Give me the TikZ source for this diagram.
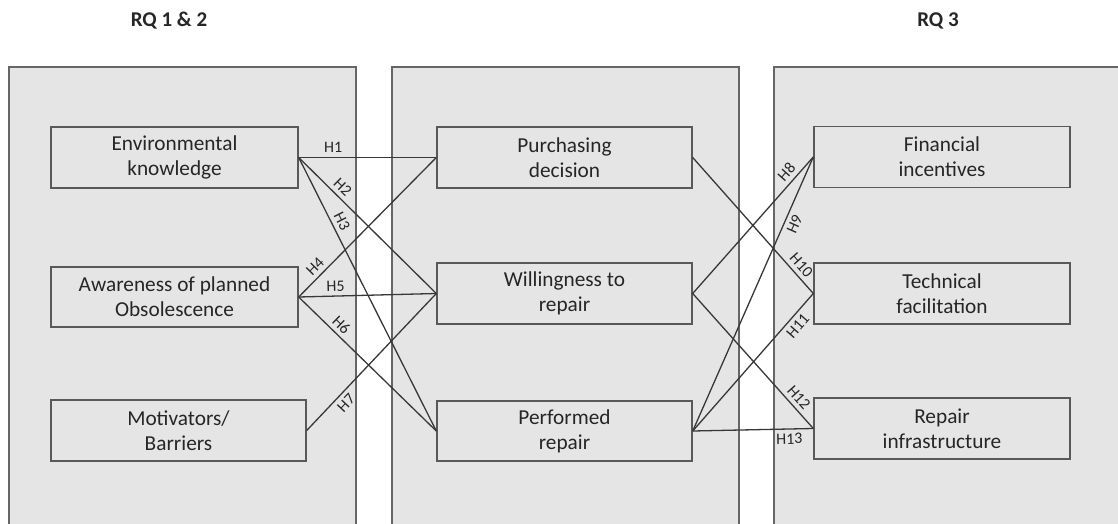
\documentclass[tikz,border=0pt]{standalone}
\usepackage{fontspec}
\setmainfont{Carlito}
\begin{document}
\begin{tikzpicture}[x=1pt,y=-1pt,
  panel/.style={draw=black!60,line width=1.4pt,fill=black!10},
  varbox/.style={draw=black!65,line width=1.4pt,minimum height=61pt,inner sep=0pt,
    align=center,font=\fontsize{21.3}{25}\selectfont,text=black!85},
  link/.style={draw=black!78,line width=1.3pt},
  hyp/.style={font=\fontsize{16}{18}\selectfont,text=black!85,inner sep=4pt,sloped},
  rq/.style={font=\bfseries\fontsize{21}{24}\selectfont,text=black!85}]
\useasboundingbox (0,0) rectangle (1118,524);
\clip (0,0) rectangle (1118,524);
\fill[white] (0,0) rectangle (1118,524);

% research question headings
\node[rq] (rq12) at (169,21) {RQ 1 \& 2};
\node[rq] (rq3) at (938,21) {RQ 3};

% grey panels (open at the bottom and right)
\path[panel] (9,540) -- (9,67) -- (356,67) -- (356,540);
\path[panel] (392,540) -- (392,67) -- (739,67) -- (739,540);
\path[panel] (774,540) -- (774,67) -- (1130,67) -- (1130,540);

% constructs
\node[varbox,minimum width=247pt] (env) at (174.5,157.5) {Environmental\\knowledge};
\node[varbox,minimum width=247pt,minimum height=60pt] (aware) at (174.5,297) {Awareness of planned\\Obsolescence};
\node[varbox,minimum width=255pt] (motiv) at (178.5,430.5) {Motivators/\\Barriers};

\node[varbox,minimum width=255pt] (purch) at (564.5,157.5) {Purchasing\\decision};
\node[varbox,minimum width=255pt] (will) at (564.5,293.5) {Willingness to\\repair};
\node[varbox,minimum width=255pt,minimum height=60pt] (perf) at (564.5,431) {Performed\\repair};

\node[varbox,minimum width=256pt] (fin) at (942,157) {Financial\\incentives};
\node[varbox,minimum width=256pt] (tech) at (942,293.5) {Technical\\facilitation};
\node[varbox,minimum width=256pt] (infra) at (942,428.5) {Repair\\infrastructure};

% hypotheses, RQ 1 & 2
\draw[link] (env.east) -- node[hyp,pos=0.25,above] {H1} (purch.west);
\draw[link] (env.east) -- node[hyp,pos=0.27,above] {H2} (will.west);
\draw[link] (env.east) -- node[hyp,pos=0.25,above] {H3} (perf.west);
\draw[link] (aware.east) -- node[hyp,pos=0.17,above] {H4} (purch.west);
\draw[link] (aware.east) -- node[hyp,pos=0.27,above] {H5} (will.west);
\draw[link] (aware.east) -- node[hyp,pos=0.26,above] {H6} (perf.west);
\draw[link] (motiv.east) -- node[hyp,pos=0.25,below] {H7} (will.west);

% hypotheses, RQ 3
\draw[link] (will.east) -- node[hyp,pos=0.84,above] {H8} (fin.west);
\draw[link] (perf.east) -- node[hyp,pos=0.77,below] {H9} (fin.west);
\draw[link] (purch.east) -- node[hyp,pos=0.84,above] {H10} (tech.west);
\draw[link] (perf.east) -- node[hyp,pos=0.81,below] {H11} (tech.west);
\draw[link] (will.east) -- node[hyp,pos=0.82,above] {H12} (infra.west);
\draw[link] (perf.east) -- node[hyp,pos=0.8,below] {H13} (infra.west);
\end{tikzpicture}
\end{document}
